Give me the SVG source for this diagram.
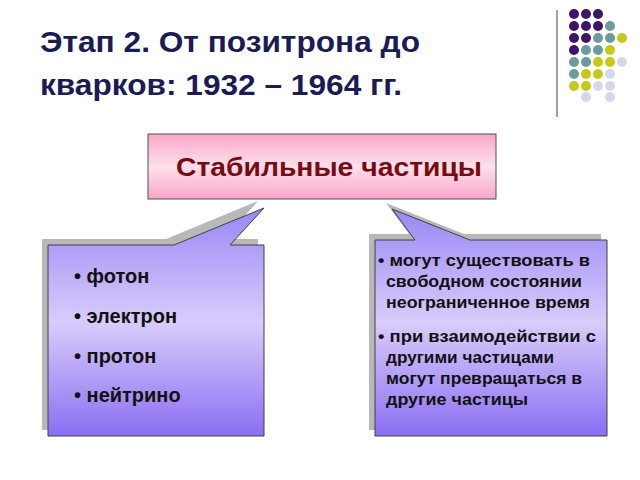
<svg xmlns="http://www.w3.org/2000/svg" width="640" height="480" viewBox="0 0 640 480">
<defs>
<linearGradient id="pink" x1="0" y1="0" x2="0" y2="1"><stop offset="0" stop-color="#F9A6C6"/><stop offset="0.5" stop-color="#FDE0EC"/><stop offset="1" stop-color="#F9A6C6"/></linearGradient>
<linearGradient id="vio" x1="0" y1="0" x2="0" y2="1"><stop offset="0" stop-color="#9A86F4"/><stop offset="0.5" stop-color="#D8CCFB"/><stop offset="1" stop-color="#8A6EF2"/></linearGradient>
<style>
.t{font-family:"Liberation Sans",Arial,sans-serif;font-weight:bold}
.sh{fill:#B8B8B8}
.cb{fill:url(#vio);stroke:#404040;stroke-width:1}
.p{fill:#3F1469}.g{fill:#6A9C9C}.y{fill:#C8C81A}.l{fill:#D6D6EC}
</style>
</defs>
<g id="title"><text class="t" x="40" y="52" font-size="30" fill="#1B1B55" textLength="380" lengthAdjust="spacingAndGlyphs">Этап 2. От позитрона до</text><text class="t" x="40" y="95" font-size="30" fill="#1B1B55" textLength="362" lengthAdjust="spacingAndGlyphs">кварков: 1932 – 1964 гг.</text></g>
<g id="deco">
<line x1="557" y1="10" x2="557" y2="117" stroke="#A0A0A0" stroke-width="2"/>
<circle class="p" cx="574" cy="14" r="5"/><circle class="p" cx="586" cy="14" r="5"/><circle class="p" cx="598" cy="14" r="5"/>
<circle class="p" cx="574" cy="26" r="5"/><circle class="p" cx="586" cy="26" r="5"/><circle class="p" cx="598" cy="26" r="5"/><circle class="g" cx="610" cy="26" r="5"/>
<circle class="p" cx="574" cy="38" r="5"/><circle class="p" cx="586" cy="38" r="5"/><circle class="g" cx="598" cy="38" r="5"/><circle class="g" cx="610" cy="38" r="5"/><circle class="y" cx="622" cy="38" r="5"/>
<circle class="p" cx="574" cy="50" r="5"/><circle class="g" cx="586" cy="50" r="5"/><circle class="g" cx="598" cy="50" r="5"/><circle class="y" cx="610" cy="50" r="5"/>
<circle class="g" cx="574" cy="62" r="5"/><circle class="g" cx="586" cy="62" r="5"/><circle class="y" cx="598" cy="62" r="5"/><circle class="y" cx="610" cy="62" r="5"/><circle class="l" cx="622" cy="62" r="5"/>
<circle class="g" cx="574" cy="74" r="5"/><circle class="y" cx="586" cy="74" r="5"/><circle class="y" cx="598" cy="74" r="5"/><circle class="l" cx="610" cy="74" r="5"/>
<circle class="y" cx="574" cy="86" r="5"/><circle class="y" cx="586" cy="86" r="5"/><circle class="l" cx="598" cy="86" r="5"/><circle class="l" cx="610" cy="86" r="5"/>
<circle class="l" cx="586" cy="97" r="5"/><circle class="l" cx="610" cy="97" r="5"/>
</g>
<g id="stable">
<rect x="148" y="134" width="348" height="65" fill="url(#pink)" stroke="#505050" stroke-width="1"/>
<text class="t" x="176" y="176" font-size="26" fill="#7A0A12" textLength="306" lengthAdjust="spacingAndGlyphs">Стабильные частицы</text>
</g>
<g id="left">
<path class="sh" d="M42 239 H166 L258 201 L224 239 H258 V430 H42 Z"/>
<path class="cb" d="M48 245 H174 L264 208 L230 245 H264 V436 H48 Z"/>
<g class="t" font-size="20" fill="#111">
<text x="74" y="283">• фотон</text><text x="74" y="323">• электрон</text><text x="74" y="363">• протон</text><text x="74" y="402">• нейтрино</text>
</g>
</g>
<g id="right">
<path class="sh" d="M369 234 H409 L386 203 L464 234 H601 V430 H369 Z"/>
<path class="cb" d="M375 240 H415 L392 209 L470 240 H607 V436 H375 Z"/>
<g class="t" font-size="16.5" fill="#111">
<text x="378" y="266" textLength="212" lengthAdjust="spacingAndGlyphs">• могут существовать в</text><text x="386" y="287" textLength="196" lengthAdjust="spacingAndGlyphs">свободном состоянии</text><text x="386" y="308" textLength="204" lengthAdjust="spacingAndGlyphs">неограниченное время</text>
<text x="378" y="342" textLength="218" lengthAdjust="spacingAndGlyphs">• при взаимодействии с</text><text x="386" y="363" textLength="168" lengthAdjust="spacingAndGlyphs">другими частицами</text><text x="386" y="384" textLength="196" lengthAdjust="spacingAndGlyphs">могут превращаться в</text><text x="386" y="405" textLength="142" lengthAdjust="spacingAndGlyphs">другие частицы</text>
</g>
</g>
</svg>
